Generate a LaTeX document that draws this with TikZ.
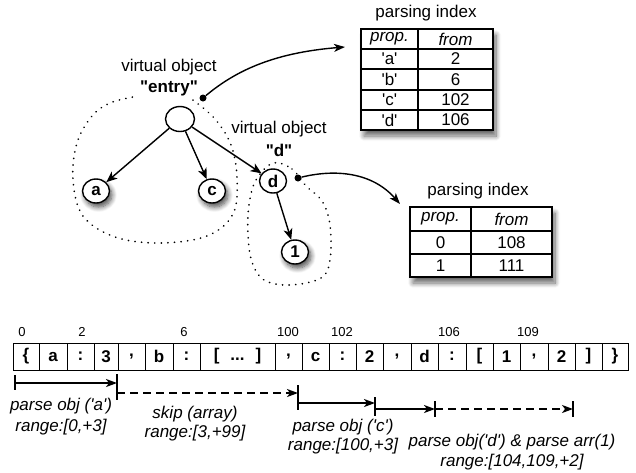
\documentclass[tikz,border=0pt]{standalone}
\usepackage{fontspec}
\setmainfont{Liberation Sans}
\usetikzlibrary{arrows.meta,shapes.geometric,shadows.blur}
\begin{document}
\begin{tikzpicture}[x=1pt,y=-1pt,
  txt/.style={font=\fontsize{17}{20}\selectfont, inner sep=0pt},
  small/.style={font=\fontsize{13}{15}\selectfont, inner sep=0pt},
  tnode/.style={ellipse, draw, line width=1.4pt, fill=white, minimum width=27pt, minimum height=24pt, inner sep=0pt, font=\fontsize{17}{20}\selectfont\bfseries},
  shadowed/.style={blur shadow={shadow xshift=2.5pt, shadow yshift=-4pt, shadow blur steps=8, shadow opacity=70, shadow blur radius=5pt}},
  edge/.style={line width=1.4pt, -{Stealth[length=11pt,width=9pt,inset=3pt]}},
  region/.style={line width=1.8pt, dash pattern=on 0.1pt off 6.5pt, line cap=round},
  cell/.style={draw, line width=1pt, minimum height=27pt, inner sep=0pt, font=\fontsize{17}{20}\selectfont\bfseries},
  tl/.style={line width=1.6pt, -{Stealth[length=11pt,width=8pt,inset=3pt]}},
  tldash/.style={tl, dash pattern=on 8pt off 5pt},
  tick/.style={line width=1.6pt},
  tablebox/.style={draw, line width=1.5pt, fill=white, inner sep=0pt, blur shadow={shadow xshift=3pt, shadow yshift=-6pt, shadow blur steps=10, shadow opacity=60, shadow blur radius=5pt}},
  tline/.style={line width=1.2pt},
  dotnode/.style={circle, fill=black, minimum size=7pt, inner sep=0pt},
  conn/.style={line width=1.4pt, -{Stealth[length=11pt,width=8pt,inset=3pt]}}
]
\useasboundingbox (0,0) rectangle (636,472);

% ---------- tree ----------
\node[txt] (lbl1) at (169,67) {virtual object};
\node[txt, font=\fontsize{17}{20}\selectfont\bfseries] (lbl1b) at (169,88) {\textquotedbl entry\textquotedbl};
\node[txt] (lbl2) at (279,129) {virtual object};
\node[txt, font=\fontsize{17}{20}\selectfont\bfseries] (lbl2b) at (279,150) {\textquotedbl d\textquotedbl};

% dotted regions
\draw[region] plot[smooth, tension=0.6] coordinates {(193,100) (215,119) (231,145) (237,178) (233,214) (207,236) (160,243) (115,237) (83,216) (73,180) (77,143) (92,116) (110,103) (133,97)};
\draw[region] plot[smooth cycle, tension=0.6] coordinates {(273,163) (292,169) (306,186) (322,201) (330,225) (330,260) (321,278) (290,285) (264,280) (252,262) (248,235) (249,205) (256,180)};

\node[tnode, minimum width=29pt, minimum height=25pt] (entry) at (180,119) {};
\node[tnode, shadowed] (a) at (96,191) {a};
\node[tnode, shadowed] (c) at (212,191) {c};
\node[tnode] (d) at (273,181) {d};
\node[tnode, shadowed] (one) at (295,252) {1};

\draw[edge] (entry) -- (a);
\draw[edge] (entry) -- (c);
\draw[edge] (entry) -- (d);
\draw[edge] (d) -- (one);

\node[dotnode] (dot1) at (203,98) {};
\node[dotnode] (dot2) at (298,178) {};

% ---------- table 1 ----------
\node[txt] (t1title) at (426,13) {parsing index};
\node[tablebox, minimum width=132pt, minimum height=101pt] (tab1) at (427,79.5) {};
\draw[tline] (418,29) -- (418,130);
\foreach \yy in {49,69,90,110} \draw[tline] (361,\yy) -- (493,\yy);
\node[txt, font=\fontsize{17}{20}\selectfont\itshape] (t1h1) at (389.5,39) {prop.};
\node[txt, font=\fontsize{17}{20}\selectfont\itshape] (t1h2) at (455.5,39) {from};
\foreach \k/\v/\yy [count=\i] in {a/2/59, b/6/79.5, c/102/100, d/106/120} {
  \node[txt] (t1k\i) at (389.5,\yy) {\textquotesingle\k\textquotesingle};
  \node[txt] (t1v\i) at (455.5,\yy) {\v};
}
\coordinate (tab1in) at (345,47);
\draw[conn] (dot1) .. controls (233,73) and (270,53) .. (tab1in);

% ---------- table 2 ----------
\node[txt] (t2title) at (478,191) {parsing index};
\node[tablebox, minimum width=142pt, minimum height=70pt] (tab2) at (481,242) {};
\draw[tline] (471,207) -- (471,277);
\foreach \yy in {231,254} \draw[tline] (410,\yy) -- (552,\yy);
\node[txt, font=\fontsize{17}{20}\selectfont\itshape] (t2h1) at (440.5,219) {prop.};
\node[txt, font=\fontsize{17}{20}\selectfont\itshape] (t2h2) at (511.5,219) {from};
\node[txt] (t2k1) at (440.5,242.5) {0};
\node[txt] (t2v1) at (511.5,242.5) {108};
\node[txt] (t2k2) at (440.5,265.5) {1};
\node[txt] (t2v2) at (511.5,265.5) {111};
\coordinate (tab2in) at (400,204);
\draw[conn] (dot2) .. controls (335,169) and (372,172) .. (tab2in);

% ---------- cell row ----------
\foreach \l/\r/\t [count=\i] in {13/39/\{, 39/67/a, 67/94/:, 94/118/3, 118/145/{,}, 145/173/b, 173/200/:, 200/275/{[\hspace{11pt}...\hspace{11pt}]}, 275/302/{,}, 302/329/c, 329/356/:, 356/383/2, 383/411/{,}, 411/438/d, 438/466/:, 466/493/[, 493/520/1, 520/548/{,}, 548/575/2, 575/602/], 602/628/\}} {
  \node[cell, minimum width={(\r-\l)*1pt}] (cell\i) at ({(\l+\r)/2},356.5) {\t};
}
\node[small] (i0) at (22,332) {0};
\node[small] (i2) at (82,332) {2};
\node[small] (i6) at (184,332) {6};
\node[small] (i100) at (288,332) {100};
\node[small] (i102) at (342,332) {102};
\node[small] (i106) at (449,332) {106};
\node[small] (i109) at (528,332) {109};

% ---------- timeline ----------
\coordinate (a0) at (15,383);  \coordinate (a1) at (117,383);
\coordinate (b0) at (117,393); \coordinate (b1) at (298,393);
\coordinate (c0) at (298,403); \coordinate (c1) at (375,403);
\coordinate (d0) at (375,409); \coordinate (d1) at (435,409);
\coordinate (e0) at (435,409); \coordinate (e1) at (573,409);
\draw[tick] (15,375) -- (15,390);
\draw[tick] (117,374) -- (117,400);
\draw[tick] (298,385) -- (298,410);
\draw[tick] (375,397) -- (375,416);
\draw[tick] (435,401) -- (435,417);
\draw[tick] (573,401) -- (573,417);
\draw[tl] (a0) -- (a1);
\draw[tldash] (b0) -- (b1);
\draw[tl] (c0) -- (c1);
\draw[tl] (d0) -- (d1);
\draw[tldash] (e0) -- (e1);

\node[txt, align=center, font=\fontsize{17}{21}\selectfont\itshape] (l1) at (61,416.5) {parse obj (\textquotesingle a\textquotesingle)\\range:[0,+3]};
\node[txt, align=center, font=\fontsize{17}{19}\selectfont\itshape] (l2) at (195,424) {skip (array)\\range:[3,+99]};
\node[txt, align=center, font=\fontsize{17}{19}\selectfont\itshape] (l3) at (343,437) {parse obj (\textquotesingle c\textquotesingle)\\range:[100,+3]};
\node[txt, align=center, font=\fontsize{17}{20}\selectfont\itshape] (l4) at (512,452) {parse obj(\textquotesingle d\textquotesingle) \& parse arr(1)\\range:[104,109,+2]};
\end{tikzpicture}
\end{document}
